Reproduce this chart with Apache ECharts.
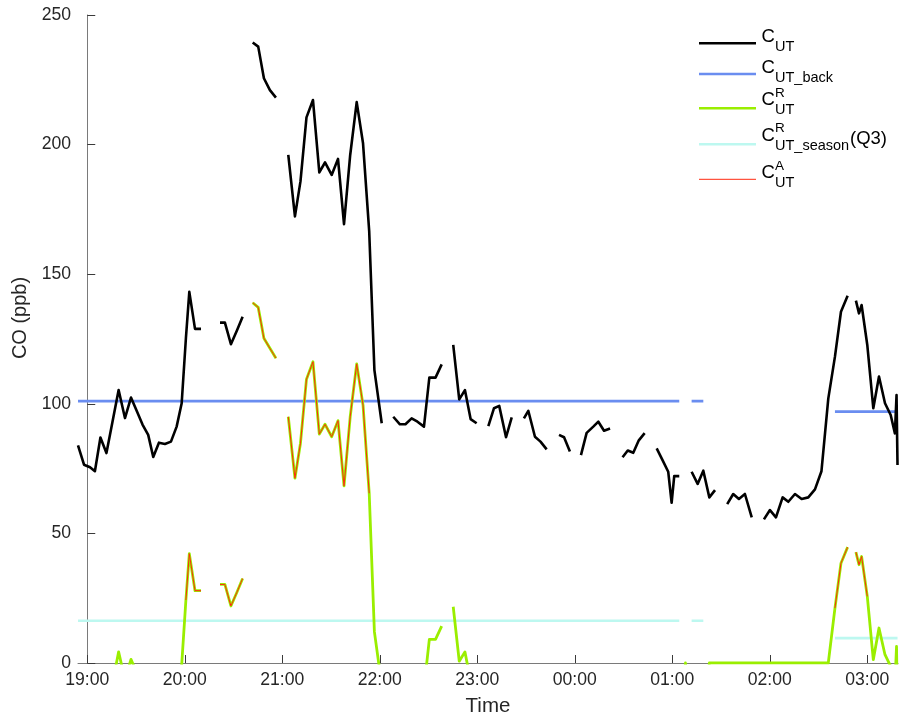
<!DOCTYPE html>
<html>
<head>
<meta charset="utf-8">
<script src="https://cdn.jsdelivr.net/npm/echarts@6/dist/echarts.min.js"></script>
<style>
  html, body { margin: 0; padding: 0; background: #fff; }
  #chart { width: 899px; height: 720px; }
</style>
</head>
<body>
<div id="chart"></div>
<script>
// Sample times in minutes after 19:00 (values past midnight keep counting up)
const sampleMinutes = [
  -5.7, -2.0, 1.7, 4.7, 8.1, 11.8, 15.5, 19.3, 23.2, 26.9,
  30.6, 34.0, 37.5, 40.6, 44.1, 47.8, 51.5, 55.0, 58.1, 60.7,
  62.8, 66.3, 70.0, 73.7, 77.7, 81.7, 84.7, 88.4, 92.1, 95.6,
  98.7, 101.8, 105.2, 108.7, 112.4, 116.1, 119.8, 123.7, 127.8, 131.2,
  134.9, 138.9, 142.8, 146.3, 150.4, 154.3, 158.0, 161.8, 165.8, 169.7,
  173.5, 176.7, 181.2, 184.7, 188.3, 192.4, 195.8, 199.6, 203.2, 207.2,
  210.5, 214.3, 218.1, 221.7, 225.2, 228.9, 232.4, 235.9, 239.6, 243.2,
  246.8, 250.3, 253.5, 257.7, 261.2, 265.0, 268.7, 271.4, 275.5, 278.9,
  282.7, 286.6, 290.3, 293.4, 297.0, 300.4, 303.8, 307.3, 311.4, 314.5,
  318.0, 321.7, 325.4, 329.4, 332.6, 336.0, 339.4, 343.0, 346.6, 350.4,
  354.0, 357.5, 359.6, 361.2, 364.3, 368.1, 371.9, 375.6, 379.1, 382.8,
  386.3, 390.0, 393.8, 397.5, 401.0, 404.7, 408.9, 412.7, 416.4, 420.1,
  423.8, 427.9, 431.4, 435.5, 439.6, 443.7, 447.8, 451.8, 456.0, 460.1,
  463.8, 467.9, 470.6, 473.0, 474.9, 476.5, 480.0, 483.7, 487.2, 490.9,
  494.4, 497.0, 498.0, 498.6
];

// C_UT (ppb)
const cUT = [
  84, 76.5, 75.5, 74, 87, 81, 93, 105.3, 94.5, 102.4,
  97, 92, 88, 79.5, 85, 84.5, 85.4, 91.2, 100.2, 125.3,
  143.2, 128.9, 128.9, null, null, 131.3, 131.3, 123, 128.3, 133.6,
  null, 239.4, 237.8, 225.6, 221, 218.1, null, 196, 172.3, 185.8,
  210.5, 217.2, 189.3, 193.1, 188.3, 194.5, 169.3, 196, 216.4, 200.5,
  166.5, 113, 92.5, null, 95, 92.1, 92.1, 94.4, 93.1, 91.2,
  110.1, 110.1, 115.2, null, 122.7, 101.7, 105.3, 94.1, 92.5, null,
  91.4, 98.3, 99.2, 87.1, 94.8, null, 94.4, 97.3, 87.3, 85.4,
  82.4, null, 88, 87.1, 81.6, null, 80.2, 88.8, 91.2, 93.1,
  89.6, 90.5, null, 79.4, 82, 81.1, 85.9, 88.7, null, 82.8,
  78.3, 73.8, 61.8, 72.1, 72.1, null, 73.8, 69.1, 74.2, 63.9,
  66.7, null, 61.3, 65.2, 63.3, 65.2, 56.2, null, 55.4, 59,
  56.2, 63.9, 62.2, 65.2, 63.3, 63.9, 67, 74, 102, 118.2,
  135.5, 141.7, null, 139.8, 134.9, 138.1, 122.7, 98.3, 110.5, 100.2,
  95.7, 88.6, 103.4, 76.4
];

// C_UT^R (ppb); negative values fall below the axis floor and are clipped
const cUTR = [
  -17, -24.5, -25.5, -27, -14, -20, -8, 4.3, -6.5, 1.4,
  -4, -9, -13, -21.5, -16, -16.5, -15.6, -9.8, -0.8, 24.3,
  42.2, 27.9, 27.9, null, null, 30.3, 30.3, 22, 27.3, 32.6,
  null, 139, 137.2, 125.3, 121.4, 117.6, null, 95, 71.3, 84.8,
  109.5, 116.2, 88.3, 92.1, 87.3, 93.5, 68.3, 95, 115.4, 99.5,
  65.5, 12, -8.5, null, -6, -8.9, -8.9, -6.6, -7.9, -9.8,
  9.1, 9.1, 14.2, null, 21.7, 0.7, 4.3, -6.9, -8.5, null,
  -9.6, -2.7, -1.8, -13.9, -6.2, null, -6.6, -3.7, -13.7, -15.6,
  -18.6, null, -13, -13.9, -19.4, null, -20.8, -12.2, -9.8, -7.9,
  -11.4, -10.5, null, -21.6, -19, -19.9, -15.1, -12.3, null, -18.2,
  -22.7, -27.2, -39.2, -28.9, -28.9, 0, -27.2, -31.9, -26.8, 0,
  0, 0, 0, 0, 0, 0, 0, 0, 0, 0,
  0, 0, 0, 0, 0, 0, 0, 0, 0, 21.2,
  38.5, 44.7, null, 42.8, 37.9, 41.1, 25.7, 1.3, 13.5, 3.2,
  -1.3, -8.4, 6.4, -20.6
];

// C_UT^A (ppb)
const cUTA = [
  null, null, null, null, null, null, null, null, null, null,
  null, null, null, null, null, null, null, null, null, 24.3,
  42.2, 27.9, 27.9, null, null, 30.3, 30.3, 22, 27.3, 32.6,
  null, 139, 137.2, 125.3, 121.4, 117.6, null, 95, 71.3, 84.8,
  109.5, 116.2, 88.3, 92.1, 87.3, 93.5, 68.3, 95, 115.4, 99.5,
  65.5, null, null, null, null, null, null, null, null, null,
  null, null, null, null, null, null, null, null, null, null,
  null, null, null, null, null, null, null, null, null, null,
  null, null, null, null, null, null, null, null, null, null,
  null, null, null, null, null, null, null, null, null, null,
  null, null, null, null, null, null, null, null, null, null,
  null, null, null, null, null, null, null, null, null, null,
  null, null, null, null, null, null, null, null, null, 21.2,
  38.5, 44.7, null, 42.8, 37.9, 41.1, 25.7, null, null, null,
  null, null, null, null
];

// Background levels, piecewise constant
const backMinutes = [-5.7, 364.3, 368.1, 371.9, 379.1, 419.6, 460.1, 498.6];
const cUTback     = [101, 101, null, 101, 101, null, 97, 97];
const cUTseason   = [16.3, 16.3, null, 16.3, 16.3, null, 9.6, 9.6];

// Axis ticks
const tickMinutes = [0, 60, 120, 180, 240, 300, 360, 420, 480];
const tickLabels = ['19:00', '20:00', '21:00', '22:00', '23:00', '00:00', '01:00', '02:00', '03:00'];
const yTicks = [0, 50, 100, 150, 200, 250];

const FONT = '"Liberation Sans", Helvetica, Arial, sans-serif';

function pairs(xs, ys) {
  return xs.map((x, i) => [x, ys[i] == null ? '-' : ys[i]]);
}

function lineSeries(name, xs, ys, color, width, z) {
  return {
    type: 'line', name: name, data: pairs(xs, ys),
    symbol: 'none', showSymbol: false, connectNulls: false,
    lineStyle: { color: color, width: width, cap: 'butt', join: 'round' },
    z: z, silent: true, animation: false, emphasis: { disabled: true }
  };
}

const COLORS = {
  ut: '#000000', back: '#6a8df0', r: '#9aee00', season: '#bdf8f0', a: '#ff2a10'
};

// Legend drawn as graphic elements (stacked sub/superscripts)
const legendRows = [
  { y: 43.3, color: COLORS.ut,     width: 2.5, sup: '',  sub: 'UT',         extra: '' },
  { y: 74,   color: COLORS.back,   width: 2.5, sup: '',  sub: 'UT_back',    extra: '' },
  { y: 108.3,color: COLORS.r,      width: 2.5, sup: 'R', sub: 'UT',         extra: '' },
  { y: 144.3,color: COLORS.season, width: 2.5, sup: 'R', sub: 'UT_season',  extra: '(Q3)' },
  { y: 179.3,color: COLORS.a,      width: 1,   sup: 'A', sub: 'UT',         extra: '' }
];
const legendCapCenters = [36.5, 68.3, 100.3, 135.5, 173.3];

const graphic = [];
legendRows.forEach((row, i) => {
  const c = legendCapCenters[i];
  graphic.push({
    type: 'line', silent: true,
    shape: { x1: 699, y1: row.y, x2: 756, y2: row.y },
    style: { stroke: row.color, lineWidth: row.width }
  });
  graphic.push({
    type: 'text', silent: true, x: 761.5, y: c,
    style: { text: 'C', font: '18.5px ' + FONT, fill: '#000', verticalAlign: 'middle', align: 'left' }
  });
  graphic.push({
    type: 'text', silent: true, x: 775, y: c + 10,
    style: { text: row.sub, font: '14.5px ' + FONT, fill: '#000', verticalAlign: 'middle', align: 'left' }
  });
  if (row.sup) {
    graphic.push({
      type: 'text', silent: true, x: 775, y: c - 7,
      style: { text: row.sup, font: '13.5px ' + FONT, fill: '#000', verticalAlign: 'middle', align: 'left' }
    });
  }
  if (row.extra) {
    graphic.push({
      type: 'text', silent: true, x: 850, y: c + 3,
      style: { text: row.extra, font: '18.5px ' + FONT, fill: '#000', verticalAlign: 'middle', align: 'left' }
    });
  }
});

// Y-axis title, rotated
graphic.push({
  type: 'text', silent: true, x: 20, y: 318, rotation: Math.PI / 2,
  style: { text: 'CO (ppb)', font: '20px ' + FONT, fill: '#262626', align: 'center', verticalAlign: 'middle' }
});

const chart = echarts.init(document.getElementById('chart'), null, { renderer: 'canvas' });
chart.setOption({
  backgroundColor: '#ffffff',
  animation: false,
  grid: { left: 78, right: 1, top: 15, bottom: 57, containLabel: false, outerBoundsMode: 'none' },
  xAxis: {
    type: 'value', min: -5.7, max: 498.9,
    name: 'Time', nameLocation: 'middle', nameGap: 33,
    nameTextStyle: { fontFamily: FONT, fontSize: 20.5, color: '#262626' },
    axisLine: { show: true, onZero: false, lineStyle: { color: '#7a7a7a', width: 1 } },
    axisTick: { show: true, inside: true, length: 8, customValues: tickMinutes, lineStyle: { color: '#3a3a3a', width: 1 } },
    axisLabel: {
      customValues: tickMinutes,
      formatter: v => tickLabels[tickMinutes.indexOf(v)],
      fontFamily: FONT, fontSize: 17.6, color: '#262626', margin: 8
    },
    splitLine: { show: false }
  },
  yAxis: {
    type: 'value', min: yTicks[0], max: yTicks[yTicks.length - 1], interval: 50,
    axisLine: { show: true, lineStyle: { color: '#7a7a7a', width: 1 } },
    axisTick: { show: true, inside: true, length: 8, lineStyle: { color: '#3a3a3a', width: 1 } },
    axisLabel: { fontFamily: FONT, fontSize: 17.6, color: '#262626', margin: 7 },
    splitLine: { show: false }
  },
  series: [
    lineSeries('C_UT_back', backMinutes, cUTback, COLORS.back, 2.7, 2),
    lineSeries('C_UT_season', backMinutes, cUTseason, COLORS.season, 2.7, 2),
    lineSeries('C_UT', sampleMinutes, cUT, COLORS.ut, 2.6, 3),
    lineSeries('C_UT^R', sampleMinutes, cUTR, COLORS.r, 2.8, 4),
    lineSeries('C_UT^A', sampleMinutes, cUTA, COLORS.a, 1, 5)
  ],
  graphic: graphic
});
</script>
</body>
</html>
